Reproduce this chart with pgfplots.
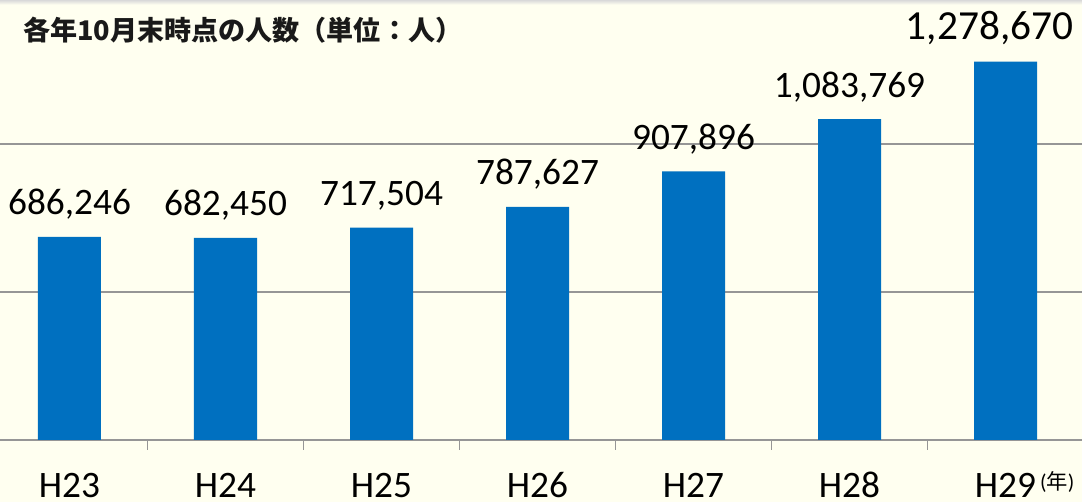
\documentclass[border=0pt]{standalone}
\usepackage{pgfplots}
\pgfplotsset{compat=1.18}
\usepackage{fontspec}
\setmainfont{Carlito}
\newfontfamily\jp{Noto Sans CJK JP}
\definecolor{bg}{RGB}{255,255,240}
\definecolor{barblue}{RGB}{0,112,192}
\definecolor{gridgray}{RGB}{150,150,150}
\begin{document}
\begin{tikzpicture}[x=1pt,y=1pt]
\fill[bg] (0,-46.5) rectangle (811.5,330);
\shade[top color=black!15, bottom color=bg] (0,326.5) rectangle (811.5,330);
\begin{axis}[
  at={(0,0)}, anchor=south west,
  scale only axis, width=811.5pt, height=330pt,
  xmin=-0.4455, xmax=6.4904, ymin=0, ymax=1486486,
  ybar, bar width=47.25pt,
  axis line style={draw=none},
  ytick={0,500000,1000000}, yticklabels={}, ytick style={draw=none},
  ymajorgrids, grid style={gridgray, line width=1.3pt},
  xtick={0,1,2,3,4,5,6},
  xticklabels={H23,H24,H25,H26,H27,H28,{H29\rlap{\hspace{3pt}\raisebox{6.5pt}{\fontsize{16}{16}\selectfont(\jp 年\rmfamily)}}}},
  xtick style={draw=none}, xtick pos=lower,
  xticklabel style={font=\fontsize{28}{28}\selectfont, anchor=base, inner sep=0pt, yshift=-39pt},
  extra x ticks={0.5,1.5,2.5,3.5,4.5,5.5},
  extra x tick labels={},
  extra x tick style={tick align=outside, major tick length=7.5pt, xtick style={draw=gridgray, line width=1.2pt}, grid=none},
  clip=false,
]
\addplot[fill=barblue, draw=none, nodes near coords, point meta=explicit symbolic,
  nodes near coords style={font=\fontsize{28}{28}\selectfont, anchor=base, inner sep=0pt, yshift=16.5pt, text=black}]
  coordinates {
  (0,686246) [686,246]
  (1,682450) [682,450]
  (2,717504) [717,504]
  (3,787627) [787,627]
  (4,907896) [907,896]
  (5,1083769) [1,083,769]
  (6,1278670) [{\fontsize{31}{31}\selectfont 1,278,670\rule{24pt}{0pt}}]
  };
\end{axis}
\node[anchor=base west, inner sep=0pt, text=black!90] at (17.25,299.5) {\jp\bfseries\fontsize{20.3}{20.3}\selectfont 各年10月末時点の人数（単位：人）};
\pgfresetboundingbox
\useasboundingbox (0,-46.5) rectangle (811.5,330);
\end{tikzpicture}
\end{document}
